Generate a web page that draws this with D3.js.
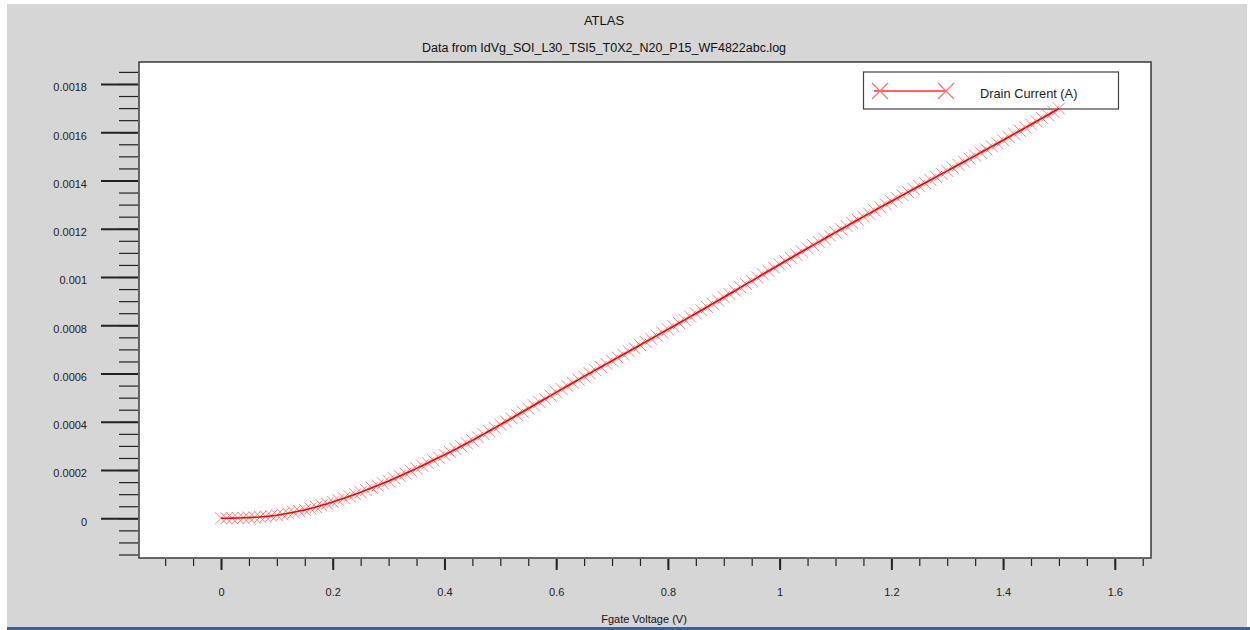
<!DOCTYPE html>
<html>
<head>
<meta charset="utf-8">
<script src="https://cdn.jsdelivr.net/npm/d3@7"></script>
<style>
  html, body { margin: 0; padding: 0; background: #ffffff; }
  svg { display: block; font-family: "Liberation Sans", Arial, sans-serif; }
</style>
</head>
<body>
<svg id="chart" width="1250" height="630"></svg>
<script>
// chart texts
const title = 'ATLAS';
const subtitle = 'Data from IdVg_SOI_L30_TSI5_T0X2_N20_P15_WF4822abc.log';
const xLabel = 'Fgate Voltage (V)';
const seriesName = 'Drain Current (A)';

// tick values
const xMajorTicks = [0, 0.2, 0.4, 0.6, 0.8, 1, 1.2, 1.4, 1.6];
const yMajorTicks = [0, 0.0002, 0.0004, 0.0006, 0.0008, 0.001, 0.0012, 0.0014, 0.0016, 0.0018];

// gate voltage sweep (V)
const gateVoltage = [
  0.00, 0.01, 0.02, 0.03, 0.04, 0.05, 0.06, 0.07, 0.08, 0.09,
  0.10, 0.11, 0.12, 0.13, 0.14, 0.15, 0.16, 0.17, 0.18, 0.19,
  0.20, 0.21, 0.22, 0.23, 0.24, 0.25, 0.26, 0.27, 0.28, 0.29,
  0.30, 0.31, 0.32, 0.33, 0.34, 0.35, 0.36, 0.37, 0.38, 0.39,
  0.40, 0.41, 0.42, 0.43, 0.44, 0.45, 0.46, 0.47, 0.48, 0.49,
  0.50, 0.51, 0.52, 0.53, 0.54, 0.55, 0.56, 0.57, 0.58, 0.59,
  0.60, 0.61, 0.62, 0.63, 0.64, 0.65, 0.66, 0.67, 0.68, 0.69,
  0.70, 0.71, 0.72, 0.73, 0.74, 0.75, 0.76, 0.77, 0.78, 0.79,
  0.80, 0.81, 0.82, 0.83, 0.84, 0.85, 0.86, 0.87, 0.88, 0.89,
  0.90, 0.91, 0.92, 0.93, 0.94, 0.95, 0.96, 0.97, 0.98, 0.99,
  1.00, 1.01, 1.02, 1.03, 1.04, 1.05, 1.06, 1.07, 1.08, 1.09,
  1.10, 1.11, 1.12, 1.13, 1.14, 1.15, 1.16, 1.17, 1.18, 1.19,
  1.20, 1.21, 1.22, 1.23, 1.24, 1.25, 1.26, 1.27, 1.28, 1.29,
  1.30, 1.31, 1.32, 1.33, 1.34, 1.35, 1.36, 1.37, 1.38, 1.39,
  1.40, 1.41, 1.42, 1.43, 1.44, 1.45, 1.46, 1.47, 1.48, 1.49,
  1.50
];

// drain current (mA)
const drainCurrentMilliAmp = [
  0.0000, 0.0003, 0.0008, 0.0015, 0.0022, 0.0030, 0.0042, 0.0057, 0.0076, 0.0100,
  0.0130, 0.0166, 0.0206, 0.0251, 0.0299, 0.0350, 0.0409, 0.0471, 0.0537, 0.0607,
  0.0680, 0.0757, 0.0836, 0.0917, 0.0998, 0.1080, 0.1170, 0.1262, 0.1355, 0.1452,
  0.1550, 0.1652, 0.1755, 0.1859, 0.1964, 0.2070, 0.2180, 0.2291, 0.2403, 0.2516,
  0.2630, 0.2749, 0.2868, 0.2988, 0.3109, 0.3230, 0.3358, 0.3487, 0.3617, 0.3748,
  0.3880, 0.4013, 0.4147, 0.4281, 0.4415, 0.4550, 0.4684, 0.4818, 0.4952, 0.5086,
  0.5220, 0.5352, 0.5484, 0.5616, 0.5748, 0.5880, 0.6010, 0.6140, 0.6270, 0.6400,
  0.6530, 0.6660, 0.6790, 0.6920, 0.7050, 0.7180, 0.7310, 0.7440, 0.7570, 0.7700,
  0.7830, 0.7961, 0.8093, 0.8225, 0.8357, 0.8490, 0.8624, 0.8758, 0.8892, 0.9026,
  0.9160, 0.9296, 0.9432, 0.9568, 0.9704, 0.9840, 0.9976, 1.0112, 1.0248, 1.0384,
  1.0520, 1.0654, 1.0788, 1.0922, 1.1056, 1.1190, 1.1322, 1.1454, 1.1586, 1.1718,
  1.1850, 1.1980, 1.2110, 1.2240, 1.2370, 1.2500, 1.2628, 1.2756, 1.2884, 1.3012,
  1.3140, 1.3266, 1.3392, 1.3518, 1.3644, 1.3770, 1.3896, 1.4022, 1.4148, 1.4274,
  1.4400, 1.4526, 1.4652, 1.4778, 1.4904, 1.5030, 1.5158, 1.5286, 1.5414, 1.5542,
  1.5670, 1.5800, 1.5930, 1.6060, 1.6190, 1.6320, 1.6452, 1.6584, 1.6716, 1.6848,
  1.6980
];

const data = gateVoltage.map((v, i) => ({ vg: v, id: drainCurrentMilliAmp[i] * 1e-3 }));

const svg = d3.select('#chart');
const plot = { left: 139, top: 62, right: 1151, bottom: 558 };

// window background
svg.append('rect').attr('x', 7).attr('y', 4).attr('width', 1240).attr('height', 623).attr('fill', '#d6d6d6');
svg.append('rect').attr('x', 7).attr('y', 627).attr('width', 1243).attr('height', 3).attr('fill', '#3d6190');

// scales
const x = d3.scaleLinear().domain([-0.1468, 1.6648]).range([plot.left, plot.right]);
const y = d3.scaleLinear().domain([-0.0001645, 0.001891]).range([plot.bottom, plot.top]);

// titles
svg.append('text').attr('x', 604).attr('y', 25).attr('text-anchor', 'middle')
  .attr('font-size', 13).attr('fill', '#111').text(title);
svg.append('text').attr('x', 604).attr('y', 52).attr('text-anchor', 'middle')
  .attr('font-size', 12.5).attr('fill', '#111').text(subtitle);

// plot area
svg.append('rect')
  .attr('x', plot.left).attr('y', plot.top)
  .attr('width', plot.right - plot.left).attr('height', plot.bottom - plot.top)
  .attr('fill', '#ffffff').attr('stroke', '#3a3a3a').attr('stroke-width', 1.5);

// minor ticks every 0.05 V and 0.00005 A
const xMinor = x.ticks(40).filter(t => t > x.domain()[0] && t < x.domain()[1]);
const yMinor = y.ticks(45).filter(t => t > y.domain()[0] && t < y.domain()[1]);

const xAxisMinor = d3.axisBottom(x).tickValues(xMinor).tickSize(7).tickFormat('');
const xAxisMajor = d3.axisBottom(x).tickValues(xMajorTicks).tickSize(11).tickPadding(18)
  .tickFormat(d => d3.format('.1~f')(d));
const yAxisMinor = d3.axisLeft(y).tickValues(yMinor).tickSize(19).tickFormat('');
const yAxisMajor = d3.axisLeft(y).tickValues(yMajorTicks).tickSize(37).tickPadding(14)
  .tickFormat(d => d3.format('.4~f')(d));

function styleAxis(g, width) {
  g.select('.domain').remove();
  g.selectAll('line').attr('stroke', '#222').attr('stroke-width', width);
  g.selectAll('text').attr('fill', '#222').attr('font-size', 11)
    .attr('font-family', '"Liberation Sans", Arial, sans-serif');
}

svg.append('g').attr('transform', `translate(0,${plot.bottom + 1})`).call(xAxisMinor).call(g => styleAxis(g, 1.2));
svg.append('g').attr('transform', `translate(0,${plot.bottom + 1})`).call(xAxisMajor).call(g => styleAxis(g, 2));
svg.append('g').attr('transform', `translate(${plot.left - 1},0)`).call(yAxisMinor).call(g => styleAxis(g, 1.2));
svg.append('g').attr('transform', `translate(${plot.left - 1},0)`).call(yAxisMajor).call(g => styleAxis(g, 2))
  .selectAll('text').attr('dy', '0.62em');

// axis label
svg.append('text').attr('x', 644).attr('y', 623).attr('text-anchor', 'middle')
  .attr('font-size', 11).attr('fill', '#111').text(xLabel);

// legend
const legend = svg.append('g');
legend.append('rect').attr('x', 863.5).attr('y', 72).attr('width', 255).attr('height', 37)
  .attr('fill', '#ffffff').attr('stroke', '#444').attr('stroke-width', 1.2);
legend.append('line').attr('x1', 874).attr('x2', 946).attr('y1', 91).attr('y2', 91)
  .attr('stroke', '#ff3030').attr('stroke-width', 1.3);
[880, 946].forEach(cx => {
  legend.append('path')
    .attr('d', `M${cx - 8},${91 - 8}L${cx + 8},${91 + 8}M${cx - 8},${91 + 8}L${cx + 8},${91 - 8}`)
    .attr('stroke', '#ff7070').attr('stroke-width', 1.2).attr('fill', 'none');
});
legend.append('text').attr('x', 980).attr('y', 98).attr('font-size', 12.8).attr('fill', '#222').text(seriesName);

// series
const plotG = svg.append('g');
const m = 6;
plotG.selectAll('path.marker')
  .data(data)
  .enter().append('path')
  .attr('class', 'marker')
  .attr('d', d => {
    const cx = x(d.vg), cy = y(d.id);
    return `M${cx - m},${cy - m}L${cx + m},${cy + m}M${cx - m},${cy + m}L${cx + m},${cy - m}`;
  })
  .attr('stroke', '#ff5a5a').attr('stroke-opacity', 0.75).attr('stroke-width', 1).attr('fill', 'none');

plotG.append('path')
  .datum(data)
  .attr('fill', 'none')
  .attr('stroke', '#ff0000')
  .attr('stroke-width', 1.6)
  .attr('d', d3.line().x(d => x(d.vg)).y(d => y(d.id)));
</script>
</body>
</html>
